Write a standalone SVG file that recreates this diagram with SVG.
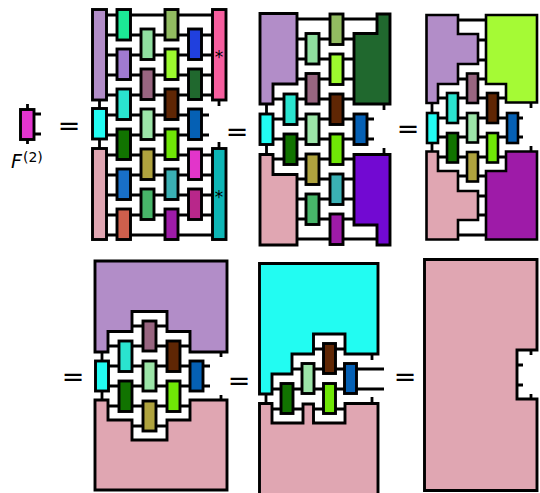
<svg xmlns="http://www.w3.org/2000/svg" width="540" height="493" viewBox="0 0 540 493">
<style>
.n{stroke:#000;stroke-width:2.9;stroke-linejoin:miter}
.t{stroke-width:2.6}
.w{stroke:#000;stroke-width:2.8;fill:none}
.e{font-family:"DejaVu Sans",sans-serif;font-size:27px;text-anchor:middle;fill:#000}
.s{font-family:"DejaVu Sans",sans-serif;font-size:17px;text-anchor:middle;fill:#000}
.f{font-family:"DejaVu Sans",sans-serif;font-style:italic;font-size:19px;fill:#000}
.f2{font-family:"DejaVu Sans",sans-serif;font-size:14px;fill:#000}
</style>
<g id="connectors">
<path class="w" d="M27.500 104V144M34 114H41M34 134H41"/>
<path class="w" d="M99.500 100V148M219 100V106M219 142V148M106 15H212M106 35H212M106 55H212M106 75H212M106 95H212M106 115H209M106 135H209M106 155H212M106 175H212M106 195H212M106 215H212M106 235H212"/>
<path class="w" d="M266.500 104V154M384 104V110M384 148V154M297 19H377M297 39H354M297 59H354M297 79H354M273 99H354M273 119H374M273 139H374M273 159H354M297 179H354M297 199H354M297 219H354M297 239H377"/>
<path class="w" d="M432 102V151M531 102V108M531 146V151M458 20H486M478 40H486M478 60H486M458 79H486M438 98H506M438 118H523M438 137H523M438 157H506M458 176H486M478 196H486M478 215H486M458 235H486"/>
<path class="w" d="M102 352V400M221 352V357M221 395V400M132 326H167M108 346H190M108 366H210M108 386H210M108 406H190M132 426H167"/>
<path class="w" d="M266 394V403M372 354V360M372 397V403M313 349H345M292 369H384M272 389H384M272 409H345"/>
<path class="w" d="M531 350V355M531 394V399M517 365H523M517 385H523"/>
</g>
<g id="f2"><rect class="n" x="20.500" y="109.500" width="13.500" height="30" fill="#E335CF"/><text class="f" x="11" y="168">F</text><text class="f2" x="23" y="162">(2)</text></g>
<g id="panel1">
<rect class="n" x="92.500" y="9.500" width="14" height="90.500" fill="#B28DC8"/>
<rect class="n" x="92.500" y="108.500" width="14" height="30.500" fill="#22FCF2"/>
<rect class="n" x="92.500" y="148.500" width="14" height="91" fill="#E0A6B2"/>
<rect class="n" x="117" y="9.500" width="13.500" height="30.500" fill="#1CE896"/>
<rect class="n" x="117" y="49" width="13.500" height="30.500" fill="#A07AD0"/>
<rect class="n" x="117" y="89" width="13.500" height="30.500" fill="#2AE4CF"/>
<rect class="n" x="117" y="129" width="13.500" height="30.500" fill="#117300"/>
<rect class="n" x="117" y="169" width="13.500" height="30.500" fill="#186FC7"/>
<rect class="n" x="117" y="209" width="13.500" height="30.500" fill="#CE5F4C"/>
<rect class="n" x="141" y="29" width="13" height="30.500" fill="#90DFA0"/>
<rect class="n" x="141" y="69" width="13" height="30.500" fill="#986580"/>
<rect class="n" x="141" y="109" width="13" height="30.500" fill="#9CE5A8"/>
<rect class="n" x="141" y="149" width="13" height="30.500" fill="#AFA33E"/>
<rect class="n" x="141" y="189" width="13" height="30.500" fill="#47B569"/>
<rect class="n" x="165" y="9.500" width="13" height="30.500" fill="#92BC61"/>
<rect class="n" x="165" y="49" width="13" height="30.500" fill="#9CFA2E"/>
<rect class="n" x="165" y="89" width="13" height="30.500" fill="#5F2604"/>
<rect class="n" x="165" y="129" width="13" height="30.500" fill="#6FE606"/>
<rect class="n" x="165" y="169" width="13" height="30.500" fill="#3AB0B4"/>
<rect class="n" x="165" y="209" width="13" height="30.500" fill="#9E1BA8"/>
<rect class="n" x="188.500" y="29" width="13" height="30.500" fill="#2040DE"/>
<rect class="n" x="188.500" y="69" width="13" height="30.500" fill="#20682E"/>
<rect class="n" x="188.500" y="109" width="13" height="30.500" fill="#0560B4"/>
<rect class="n" x="188.500" y="149" width="13" height="30.500" fill="#E235CA"/>
<rect class="n" x="188.500" y="189" width="13" height="30.500" fill="#B8278A"/>
<rect class="n" x="212.500" y="9.500" width="13.500" height="90.500" fill="#F65E9E"/>
<rect class="n" x="212.500" y="148.500" width="13.500" height="91" fill="#0DB5B5"/>
<text class="s" x="219" y="63">*</text><text class="s" x="219" y="203">*</text>
</g>
<g id="panel2">
<polygon class="n" points="260,13.500 297,13.500 297,84 273,84 273,104 260,104" fill="#B28DC8"/>
<polygon class="n" points="260,154.500 273,154.500 273,174.500 297,174.500 297,245 260,245" fill="#E0A6B2"/>
<rect class="n" x="260" y="114" width="13" height="30.500" fill="#22FCF2"/>
<rect class="n" x="284" y="94" width="13" height="30.500" fill="#2AE4CF"/>
<rect class="n" x="284" y="134" width="13" height="30.500" fill="#117300"/>
<rect class="n" x="306" y="33.500" width="13" height="30.500" fill="#90DFA0"/>
<rect class="n" x="306" y="73.500" width="13" height="30.500" fill="#986580"/>
<rect class="n" x="306" y="114" width="13" height="30.500" fill="#9CE5A8"/>
<rect class="n" x="306" y="154" width="13" height="30.500" fill="#AFA33E"/>
<rect class="n" x="306" y="194" width="13" height="30.500" fill="#47B569"/>
<rect class="n" x="330" y="14" width="13" height="30.500" fill="#92BC61"/>
<rect class="n" x="330" y="54" width="13" height="30.500" fill="#9CFA2E"/>
<rect class="n" x="330" y="94" width="13" height="30.500" fill="#5F2604"/>
<rect class="n" x="330" y="134" width="13" height="30.500" fill="#6FE606"/>
<rect class="n" x="330" y="174" width="13" height="30.500" fill="#3AB0B4"/>
<rect class="n" x="330" y="214" width="13" height="30.500" fill="#9E1BA8"/>
<rect class="n" x="354" y="114" width="13" height="30.500" fill="#0560B4"/>
<polygon class="n" points="377,14 390,14 390,104 354,104 354,33.500 377,33.500" fill="#20682E"/>
<polygon class="n" points="354,154.500 390,154.500 390,245 377,245 377,225 354,225" fill="#7209D2"/>
</g>
<g id="panel3">
<polygon class="n t" points="426.500,15 458,15 458,34 478,34 478,64 458,64 458,84 438,84 438,103 426.500,103" fill="#B28DC8"/>
<polygon class="n t" points="426.500,151.500 438,151.500 438,171 458,171 458,191 478,191 478,220 458,220 458,239.500 426.500,239.500" fill="#E0A6B2"/>
<polygon class="n t" points="486,15 537,15 537,102.500 506,102.500 506,84 486,84" fill="#A5FA35"/>
<polygon class="n t" points="506,151.500 537,151.500 537,239.500 486,239.500 486,171 506,171" fill="#9E1BA8"/>
<rect class="n t" x="427" y="113" width="11" height="30" fill="#22FCF2"/>
<rect class="n t" x="447" y="93" width="11" height="30" fill="#2AE4CF"/>
<rect class="n t" x="447" y="133" width="11" height="29.500" fill="#117300"/>
<rect class="n t" x="467" y="73.500" width="11" height="29.500" fill="#986580"/>
<rect class="n t" x="467" y="113" width="11" height="29.500" fill="#9CE5A8"/>
<rect class="n t" x="467" y="152" width="11" height="29.500" fill="#AFA33E"/>
<rect class="n t" x="487" y="93" width="11" height="30" fill="#5F2604"/>
<rect class="n t" x="487" y="133" width="11" height="29.500" fill="#6FE606"/>
<rect class="n t" x="507" y="113" width="11" height="30" fill="#0560B4"/>
</g>
<g id="panel4">
<polygon class="n" points="95,261 227,261 227,352 190,352 190,331.500 167,331.500 167,311.500 132,311.500 132,331.500 108,331.500 108,352 95,352" fill="#B28DC8"/>
<polygon class="n" points="95,400 108,400 108,420 132,420 132,440 167,440 167,420 190,420 190,400 227,400 227,490 95,490" fill="#E0A6B2"/>
<rect class="n" x="95.500" y="361" width="13" height="30" fill="#22FCF2"/>
<rect class="n" x="119" y="341" width="13" height="30.500" fill="#2AE4CF"/>
<rect class="n" x="119" y="381" width="13" height="30.500" fill="#117300"/>
<rect class="n" x="143" y="321" width="13" height="30" fill="#986580"/>
<rect class="n" x="143" y="361" width="13" height="30" fill="#9CE5A8"/>
<rect class="n" x="143" y="401" width="13" height="30" fill="#AFA33E"/>
<rect class="n" x="167" y="341" width="13" height="30.500" fill="#5F2604"/>
<rect class="n" x="167" y="381" width="13" height="30.500" fill="#6FE606"/>
<rect class="n" x="190" y="361" width="13" height="30" fill="#0560B4"/>
</g>
<g id="panel5">
<polygon class="n" points="259.500,263.500 378,263.500 378,354 345,354 345,334 313.500,334 313.500,354 292,354 292,374 272,374 272,394 259.500,394" fill="#22FCF2"/>
<polygon class="n" points="259.500,403.500 272,403.500 272,423 303,423 303,404 313.500,404 313.500,423 345,423 345,403.500 378,403.500 378,496 259.500,496" fill="#E0A6B2"/>
<rect class="n" x="281" y="383.500" width="12" height="30" fill="#117300"/>
<rect class="n" x="302" y="363.500" width="12" height="30" fill="#9CE5A8"/>
<rect class="n" x="323.500" y="343.500" width="12" height="30" fill="#5F2604"/>
<rect class="n" x="323.500" y="383.500" width="12" height="30" fill="#6FE606"/>
<rect class="n" x="344.500" y="363.500" width="12" height="30" fill="#0560B4"/>
</g>
<g id="panel6">
<polygon class="n" points="424.500,259.500 537,259.500 537,350 517,350 517,399 537,399 537,490.500 424.500,490.500" fill="#E0A6B2"/>
</g>
<g id="equals">
<text class="e" x="69" y="135">=</text>
<text class="e" x="237" y="141">=</text>
<text class="e" x="408" y="138">=</text>
<text class="e" x="73" y="386">=</text>
<text class="e" x="239" y="390">=</text>
<text class="e" x="405" y="386">=</text>
</g>
</svg>
